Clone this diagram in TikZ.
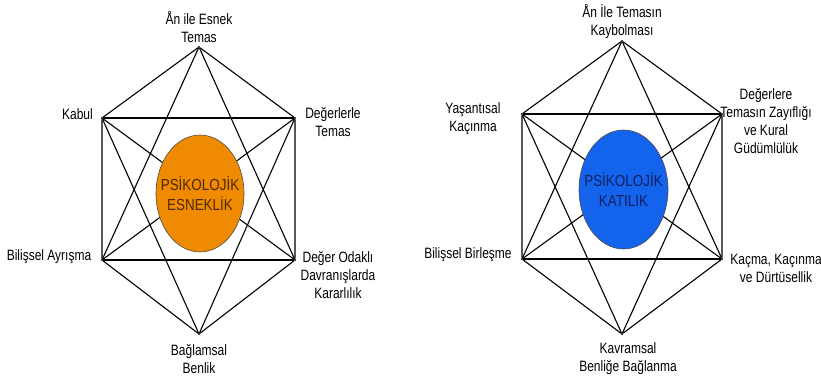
\documentclass[tikz,border=0pt]{standalone}
\usepackage{fontspec}
\usetikzlibrary{shapes.geometric}
\setmainfont[FakeStretch=0.8]{Liberation Sans}
\newfontfamily\corefont[FakeStretch=0.84]{Liberation Sans}
\definecolor{orangefill}{HTML}{F08A00}
\definecolor{bluefill}{HTML}{1463EC}
\definecolor{orangetxt}{HTML}{4A2A08}
\definecolor{bluetxt}{HTML}{102060}
\begin{document}
\begin{tikzpicture}[x=1pt,y=-1pt,
  vtx/.style={circle,fill=black,inner sep=0pt,minimum size=2.2pt},
  lbl/.style={align=center,font=\fontsize{15}{18}\selectfont,inner sep=0pt},
  edge/.style={line width=1.1pt,black},
  core/.style={ellipse,draw=black!70,line width=0.6pt,inner sep=0pt},
  coretxt/.style={align=center,font=\corefont\fontsize{16}{20}\selectfont,inner sep=0pt}
]
\useasboundingbox (0,0) rectangle (821,381);
% ---------- left ----------
\node[vtx] (LT) at (199,47) {};
\node[vtx] (LUL) at (102,118) {};
\node[vtx] (LUR) at (295,118) {};
\node[vtx] (LLL) at (102,260) {};
\node[vtx] (LLR) at (295,260) {};
\node[vtx] (LB) at (199,334) {};
\draw[edge] (LT)--(LUL)--(LLL)--(LB)--(LLR)--(LUR)--(LT);
\draw[edge] (LUL)--(LUR) (LLL)--(LLR);
\draw[edge] (LT)--(LLL) (LT)--(LLR) (LB)--(LUL) (LB)--(LUR);
\draw[edge] (LUL)--(LLR) (LUR)--(LLL);
\node[core,fill=orangefill,minimum width=88pt,minimum height=117pt] (LC) at (200,193.5) {};
\node[coretxt,text=orangetxt] (LCt) at (LC.center) {PSİKOLOJİK\\ESNEKLİK};
\node[lbl] (l1) at (199,27) {Ån ile Esnek\\Temas};
\node[lbl,anchor=east] (l2) at (93,114) {Kabul};
\node[lbl] (l3) at (333,122) {Değerlerle\\Temas};
\node[lbl] (l4) at (49,257) {Bilişsel Ayrışma};
\node[lbl] (l5) at (338,275) {Değer Odaklı\\Davranışlarda\\Kararlılık};
\node[lbl] (l6) at (199,359) {Bağlamsal\\Benlik};
% ---------- right ----------
\node[vtx] (RT) at (622,41) {};
\node[vtx] (RUL) at (522,114) {};
\node[vtx] (RUR) at (722,114) {};
\node[vtx] (RLL) at (522,259) {};
\node[vtx] (RLR) at (722,259) {};
\node[vtx] (RB) at (622,334) {};
\draw[edge] (RT)--(RUL)--(RLL)--(RB)--(RLR)--(RUR)--(RT);
\draw[edge] (RUL)--(RUR) (RLL)--(RLR);
\draw[edge] (RT)--(RLL) (RT)--(RLR) (RB)--(RUL) (RB)--(RUR);
\draw[edge] (RUL)--(RLR) (RUR)--(RLL);
\node[core,fill=bluefill,minimum width=89pt,minimum height=119pt] (RC) at (623.5,189.5) {};
\node[coretxt,text=bluetxt] (RCt) at (RC.center) {PSİKOLOJİK\\KATILIK};
\node[lbl] (r1) at (622,22) {Ån İle Temasın\\Kaybolması};
\node[lbl] (r2) at (473,119) {Yaşantısal\\Kaçınma};
\node[lbl] (r3) at (766,121) {Değerlere\\Temasın Zayıflığı\\ve Kural\\Güdümlülük};
\node[lbl] (r4) at (468,255) {Bilişsel Birleşme};
\node[lbl] (r5) at (776,268) {Kaçma, Kaçınma\\ve Dürtüsellik};
\node[lbl] (r6) at (628,359) {Kavramsal\\Benliğe Bağlanma};
\end{tikzpicture}
\end{document}
